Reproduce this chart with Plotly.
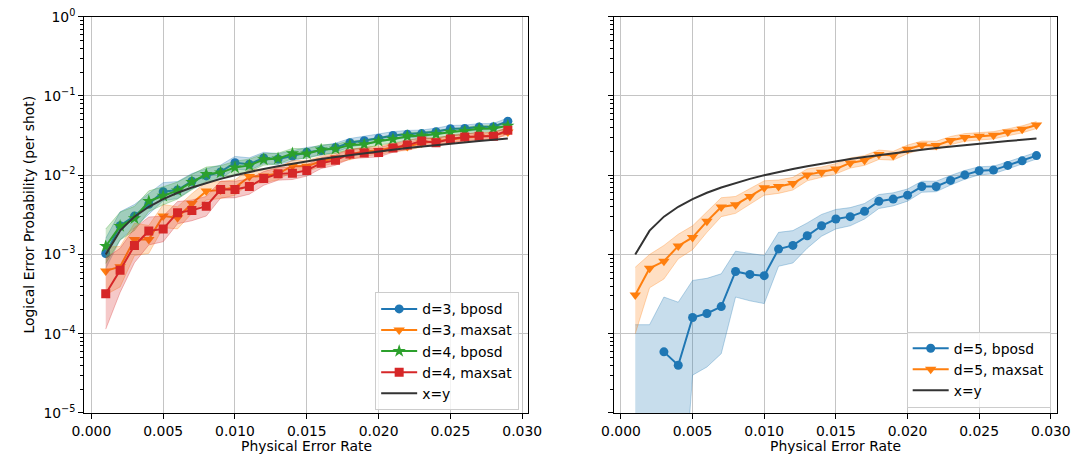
import plotly.graph_objects as go

# ---------------- data ----------------
p = [0.001, 0.002, 0.003, 0.004, 0.005, 0.006, 0.007, 0.008, 0.009, 0.010,
     0.011, 0.012, 0.013, 0.014, 0.015, 0.016, 0.017, 0.018, 0.019, 0.020,
     0.021, 0.022, 0.023, 0.024, 0.025, 0.026, 0.027, 0.028, 0.029]

# left panel
d3_bposd = [1.03e-3, 2.3e-3, 3.05e-3, 4.3e-3, 6.2e-3, 6.5e-3, 8.4e-3, 9.8e-3, 1.1e-2, 1.44e-2,
            1.38e-2, 1.65e-2, 1.6e-2, 1.75e-2, 1.95e-2, 2.05e-2, 2.23e-2, 2.57e-2, 2.73e-2, 2.92e-2,
            3.17e-2, 3.28e-2, 3.35e-2, 3.54e-2, 3.86e-2, 3.9e-2, 4.07e-2, 4.1e-2, 4.8e-2]
d3_maxsat = [6.2e-4, 7.0e-4, 1.55e-3, 1.55e-3, 3.05e-3, 2.9e-3, 4.4e-3, 6.3e-3, 6.5e-3, 7.0e-3,
             9.6e-3, 9.8e-3, 1.05e-2, 1.31e-2, 1.3e-2, 1.5e-2, 1.65e-2, 1.8e-2, 2.0e-2, 2.05e-2,
             2.25e-2, 2.3e-2, 2.55e-2, 2.7e-2, 2.8e-2, 3.0e-2, 3.05e-2, 3.2e-2, 3.5e-2]
d4_bposd = [1.27e-3, 2.28e-3, 2.85e-3, 4.7e-3, 5.5e-3, 6.4e-3, 8.2e-3, 1.03e-2, 1.08e-2, 1.25e-2,
            1.33e-2, 1.58e-2, 1.62e-2, 1.88e-2, 1.87e-2, 2.1e-2, 2.15e-2, 2.4e-2, 2.45e-2, 2.7e-2,
            2.85e-2, 3.1e-2, 3.15e-2, 3.3e-2, 3.5e-2, 3.6e-2, 3.85e-2, 3.9e-2, 4.2e-2]
d4_maxsat = [3.2e-4, 6.3e-4, 1.3e-3, 1.98e-3, 2.1e-3, 3.37e-3, 3.6e-3, 4.06e-3, 6.6e-3, 6.6e-3,
             7.2e-3, 9.1e-3, 1.04e-2, 1.06e-2, 1.15e-2, 1.42e-2, 1.55e-2, 1.85e-2, 1.91e-2, 1.94e-2,
             2.2e-2, 2.4e-2, 2.7e-2, 2.57e-2, 2.87e-2, 3.03e-2, 3.1e-2, 3.1e-2, 3.7e-2]

# band widths (ratio upper/value = value/lower), read from the shaded regions
d3_bposd_band = [1.55, 1.5, 1.4, 1.35, 1.3, 1.28, 1.25, 1.23, 1.22, 1.2, 1.2, 1.18, 1.17, 1.16, 1.15,
                 1.15, 1.14, 1.13, 1.13, 1.12, 1.12, 1.12, 1.11, 1.11, 1.1, 1.1, 1.1, 1.1, 1.1]
d3_maxsat_band = [2.0, 1.8, 1.6, 1.5, 1.4, 1.38, 1.33, 1.3, 1.28, 1.25, 1.23, 1.22, 1.2, 1.18, 1.17,
                  1.16, 1.15, 1.15, 1.14, 1.13, 1.13, 1.12, 1.12, 1.12, 1.11, 1.11, 1.1, 1.1, 1.1]
d4_bposd_band = [1.65, 1.5, 1.42, 1.35, 1.3, 1.28, 1.25, 1.23, 1.22, 1.2, 1.2, 1.18, 1.17, 1.16, 1.15,
                 1.15, 1.14, 1.13, 1.13, 1.12, 1.12, 1.12, 1.11, 1.11, 1.1, 1.1, 1.1, 1.1, 1.1]
d4_maxsat_band = [2.8, 1.9, 1.65, 1.5, 1.45, 1.38, 1.35, 1.33, 1.28, 1.27, 1.25, 1.22, 1.2, 1.2, 1.18,
                  1.17, 1.16, 1.15, 1.15, 1.14, 1.13, 1.13, 1.12, 1.12, 1.12, 1.11, 1.11, 1.11, 1.1]

# right panel
d5_bposd = [None, None, 5.9e-5, 4.0e-5, 1.6e-4, 1.8e-4, 2.2e-4, 6.1e-4, 5.6e-4, 5.4e-4,
            1.17e-3, 1.3e-3, 1.72e-3, 2.3e-3, 2.8e-3, 3.0e-3, 3.5e-3, 4.7e-3, 5.0e-3, 5.6e-3,
            7.2e-3, 7.2e-3, 8.6e-3, 1.01e-2, 1.14e-2, 1.16e-2, 1.33e-2, 1.52e-2, 1.77e-2]
d5_bposd_lo = [1e-7, 1e-7, 1e-7, 1e-7, 3.0e-5, 3.8e-5, 5.6e-5, 2.9e-4, 2.6e-4, 2.4e-4,
               7.1e-4, 7.8e-4, 1.2e-3, 1.7e-3, 2.1e-3, 2.3e-3, 2.8e-3, 3.8e-3, 4.1e-3, 4.7e-3,
               6.1e-3, 6.2e-3, 7.5e-3, 8.9e-3, 1.01e-2, 1.04e-2, 1.2e-2, 1.38e-2, 1.6e-2]
d5_bposd_hi = [1.3e-4, 1.3e-4, 2.9e-4, 2.5e-4, 4.7e-4, 5.0e-4, 5.7e-4, 1.1e-3, 1.03e-3, 9.7e-4,
               1.9e-3, 2.0e-3, 2.5e-3, 3.2e-3, 3.7e-3, 3.9e-3, 4.4e-3, 5.7e-3, 6.0e-3, 6.7e-3,
               8.4e-3, 8.4e-3, 9.9e-3, 1.15e-2, 1.28e-2, 1.3e-2, 1.48e-2, 1.68e-2, 1.95e-2]
d5_maxsat = [3.08e-4, 6.7e-4, 8.2e-4, 1.28e-3, 1.64e-3, 2.62e-3, 3.98e-3, 4.25e-3, 5.4e-3, 6.95e-3,
             7.2e-3, 7.85e-3, 1.01e-2, 1.09e-2, 1.2e-2, 1.43e-2, 1.54e-2, 1.82e-2, 1.77e-2, 2.13e-2,
             2.4e-2, 2.38e-2, 2.74e-2, 3.0e-2, 3.1e-2, 3.2e-2, 3.5e-2, 3.8e-2, 4.3e-2]
d5_maxsat_lo = [1.0e-4, 3.8e-4, 4.9e-4, 8.8e-4, 1.15e-3, 1.9e-3, 3.0e-3, 3.3e-3, 4.3e-3, 5.6e-3,
                5.9e-3, 6.5e-3, 8.5e-3, 9.3e-3, 1.04e-2, 1.23e-2, 1.33e-2, 1.58e-2, 1.55e-2, 1.87e-2,
                2.12e-2, 2.1e-2, 2.43e-2, 2.68e-2, 2.78e-2, 2.87e-2, 3.15e-2, 3.42e-2, 3.88e-2]
d5_maxsat_hi = [6.9e-4, 1.0e-3, 1.3e-3, 1.8e-3, 2.3e-3, 3.5e-3, 5.2e-3, 5.4e-3, 6.7e-3, 8.5e-3,
                8.7e-3, 9.4e-3, 1.2e-2, 1.27e-2, 1.4e-2, 1.65e-2, 1.77e-2, 2.08e-2, 2.0e-2, 2.4e-2,
                2.7e-2, 2.68e-2, 3.08e-2, 3.35e-2, 3.45e-2, 3.55e-2, 3.85e-2, 4.2e-2, 4.75e-2]

x_ticks = [0.000, 0.005, 0.010, 0.015, 0.020, 0.025, 0.030]
x_tick_labels = ["0.000", "0.005", "0.010", "0.015", "0.020", "0.025", "0.030"]
y_ticks = [1e-5, 1e-4, 1e-3, 1e-2, 1e-1, 1]
y_tick_labels = ["10<sup>−5</sup>", "10<sup>−4</sup>", "10<sup>−3</sup>",
                 "10<sup>−2</sup>", "10<sup>−1</sup>", "10<sup>0</sup>"]

# ---------------- styling ----------------
W, H = 1092, 470
BLUE, ORANGE, GREEN, RED = "#1f77b4", "#ff7f0e", "#2ca02c", "#d62728"
FONT = "DejaVu Sans"
FS = 13.9


def px(xp):
    return xp / W


def py(yp):
    return 1 - yp / H


def rgba(hexc, a):
    h = hexc.lstrip("#")
    r, g, b = int(h[0:2], 16), int(h[2:4], 16), int(h[4:6], 16)
    return f"rgba({r},{g},{b},{a})"


fig = go.Figure()


def add_series(x, y, lo, hi, color, symbol, msize, name, xa, ya, legend):
    fig.add_trace(go.Scatter(x=x, y=lo, mode="lines", line=dict(color=rgba(color, 0.3), width=1),
                             xaxis=xa, yaxis=ya, showlegend=False, hoverinfo="skip"))
    fig.add_trace(go.Scatter(x=x, y=hi, mode="lines", line=dict(color=rgba(color, 0.3), width=1),
                             fill="tonexty", fillcolor=rgba(color, 0.25),
                             xaxis=xa, yaxis=ya, showlegend=False, hoverinfo="skip"))
    fig.add_trace(go.Scatter(x=x, y=y, mode="lines+markers", name=name,
                             line=dict(color=color, width=2),
                             marker=dict(symbol=symbol, size=msize, color=color, line=dict(width=0)),
                             xaxis=xa, yaxis=ya, legend=legend))


def band(y, f):
    return [v / k for v, k in zip(y, f)], [v * k for v, k in zip(y, f)]


for y, f, c, s, ms, n in [
    (d3_bposd, d3_bposd_band, BLUE, "circle", 9, "d=3, bposd"),
    (d3_maxsat, d3_maxsat_band, ORANGE, "triangle-down", 10, "d=3, maxsat"),
    (d4_bposd, d4_bposd_band, GREEN, "star", 10, "d=4, bposd"),
    (d4_maxsat, d4_maxsat_band, RED, "square", 9, "d=4, maxsat"),
]:
    lo, hi = band(y, f)
    add_series(p, y, lo, hi, c, s, ms, n, "x", "y", "legend")

fig.add_trace(go.Scatter(x=p, y=p, mode="lines", name="x=y",
                         line=dict(color="#333333", width=2), xaxis="x", yaxis="y", legend="legend"))

add_series(p, d5_bposd, d5_bposd_lo, d5_bposd_hi, BLUE, "circle", 9, "d=5, bposd", "x2", "y2", "legend2")
add_series(p, d5_maxsat, d5_maxsat_lo, d5_maxsat_hi, ORANGE, "triangle-down", 10, "d=5, maxsat", "x2", "y2", "legend2")
fig.add_trace(go.Scatter(x=p, y=p, mode="lines", name="x=y",
                         line=dict(color="#333333", width=2), xaxis="x2", yaxis="y2", legend="legend2"))

minor_vals = [k * 10 ** e for e in range(-5, 0) for k in range(2, 10)]

xcommon = dict(range=[-0.0005, 0.0304], tickmode="array", tickvals=x_ticks, ticktext=x_tick_labels,
               showgrid=True, gridcolor="#c4c4c4", gridwidth=1.3, zeroline=False,
               ticks="outside", ticklen=5, tickwidth=1, tickcolor="black",
               showline=True, linecolor="black", linewidth=1, mirror=True,
               ticklabeloverflow="allow",
               tickfont=dict(family=FONT, size=FS, color="black"))
ycommon = dict(type="log", range=[-5, 0], tickmode="array", tickvals=y_ticks, ticktext=y_tick_labels,
               showgrid=True, gridcolor="#c4c4c4", gridwidth=1.3, zeroline=False,
               ticks="outside", ticklen=5, tickwidth=1, tickcolor="black",
               showline=True, linecolor="black", linewidth=1, mirror=True,
               ticklabeloverflow="allow",
               minor=dict(tickmode="array", tickvals=minor_vals, ticks="outside", ticklen=3,
                          tickwidth=0.8, tickcolor="black", showgrid=False),
               tickfont=dict(family=FONT, size=FS, color="black"),
               domain=[py(419), py(7)])

legend_common = dict(bgcolor="rgba(255,255,255,0.8)", bordercolor="#cccccc", borderwidth=1,
                     font=dict(family=FONT, size=FS, color="black"), tracegroupgap=0,
                     traceorder="normal", itemwidth=36, xref="paper", yref="paper")

fig.update_layout(
    width=W, height=H, margin=dict(l=0, r=0, t=0, b=0),
    paper_bgcolor="white", plot_bgcolor="white",
    font=dict(family=FONT, size=FS, color="black"),
    xaxis=dict(xcommon, domain=[px(73), px(528)], anchor="y"),
    yaxis=dict(ycommon, anchor="x"),
    xaxis2=dict(xcommon, domain=[px(616), px(1070)], anchor="y2"),
    yaxis2=dict(ycommon, anchor="x2", showticklabels=False),
    legend=dict(legend_common, x=px(519), y=py(355), xanchor="right", yanchor="middle"),
    legend2=dict(legend_common, x=px(1064), y=py(374), xanchor="right", yanchor="middle"),
    showlegend=True,
    annotations=[
        dict(text="Physical Error Rate", x=px(300.5), y=py(453), xref="paper", yref="paper",
             showarrow=False, font=dict(family=FONT, size=FS, color="black"),
             xanchor="center", yanchor="middle"),
        dict(text="Physical Error Rate", x=px(843), y=py(453), xref="paper", yref="paper",
             showarrow=False, font=dict(family=FONT, size=FS, color="black"),
             xanchor="center", yanchor="middle"),
        dict(text="Logical Error Probability (per shot)", x=px(16), y=py(213),
             xref="paper", yref="paper", showarrow=False, textangle=-90,
             font=dict(family=FONT, size=FS, color="black"), xanchor="center", yanchor="middle"),
    ],
)

fig.write_html("out.html")
